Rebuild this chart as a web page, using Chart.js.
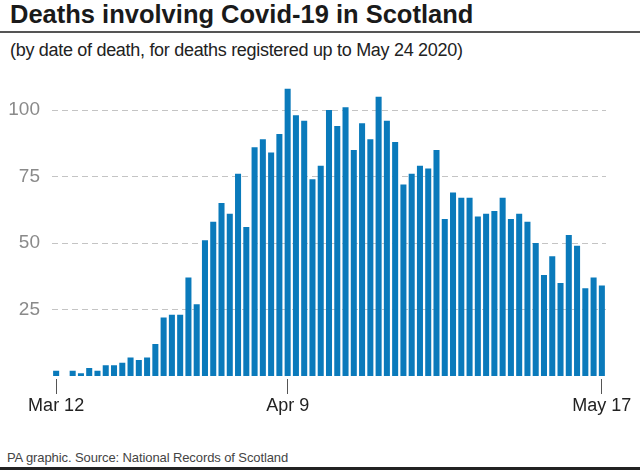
<!DOCTYPE html>
<html>
<head>
<meta charset="utf-8">
<script src="https://cdn.jsdelivr.net/npm/chart.js@4.4.1/dist/chart.umd.min.js"></script>
<style>
    body { margin: 0; background: #fff; font-family: "Liberation Sans", Arial, sans-serif; }
    #page { position: relative; width: 640px; height: 471px; overflow: hidden; }
    #title { position: absolute; left: 10px; top: 2px; font-size: 25.5px; line-height: 25px; font-weight: bold; color: #1a1a1a; white-space: nowrap; }
    #rule-top { position: absolute; left: 0; top: 31px; width: 640px; height: 2px; background: #555; }
    #subtitle { position: absolute; left: 10px; top: 40px; font-size: 18px; line-height: 20px; color: #222; letter-spacing: -0.3px; white-space: nowrap; }
    #chart-box { position: absolute; left: 0; top: 60px; width: 640px; height: 360px; }
    #footer { position: absolute; left: 7px; top: 450px; font-size: 13px; line-height: 16px; color: #444; letter-spacing: -0.1px; white-space: nowrap; }
    #rule-bottom { position: absolute; left: 0; top: 467px; width: 640px; height: 3px; background: #222; }
</style>
</head>
<body>
<div id="page">
    <div id="title">Deaths involving Covid-19 in Scotland</div>
    <div id="rule-top"></div>
    <div id="subtitle">(by date of death, for deaths registered up to May 24 2020)</div>
    <div id="chart-box"><canvas id="deathsChart" width="640" height="360"></canvas></div>
    <div id="footer">PA graphic. Source: National Records of Scotland</div>
    <div id="rule-bottom"></div>
</div>
<script>
// daily deaths, Mar 12 to May 17 2020
const deaths = [2, 0, 2, 1, 3, 2, 4, 4, 5, 7,
    6, 7, 12, 22, 23, 23, 37, 27, 51, 58,
    65, 61, 76, 56, 86, 89, 84, 91, 108, 98,
    96, 74, 79, 100, 94, 101, 85, 95, 89, 105,
    96, 88, 72, 76, 79, 78, 85, 59, 69, 67,
    67, 60, 61, 62, 67, 59, 61, 58, 50, 38,
    45, 35, 53, 49, 33, 37, 34];
const shownDates = ['Mar 12', 'Apr 9', 'May 17'];
const yTicks = [25, 50, 75, 100];

const months = ['Jan', 'Feb', 'Mar', 'Apr', 'May', 'Jun'];
const labels = [];
const firstDay = new Date(2020, 2, 12);
for (let i = 0; i < deaths.length; i++) {
    const d = new Date(firstDay);
    d.setDate(firstDay.getDate() + i);
    labels.push(months[d.getMonth()] + ' ' + d.getDate());
}

const ctx = document.getElementById('deathsChart').getContext('2d');
const deathsChart = new Chart(ctx, {
    type: 'bar',
    data: {
        labels: labels,
        datasets: [{
            label: 'Deaths',
            data: deaths,
            backgroundColor: '#0a7abb',
            borderWidth: 0,
            barPercentage: 0.73,
            categoryPercentage: 1.0
        }]
    },
    options: {
        responsive: false,
        animation: false,
        devicePixelRatio: 1,
        layout: {
            padding: { top: 23, right: 34, left: 0, bottom: 0 }
        },
        plugins: {
            legend: { display: false },
            tooltip: { enabled: false }
        },
        scales: {
            x: {
                offset: true,
                border: { display: false },
                grid: {
                    offset: false,
                    drawOnChartArea: false,
                    drawTicks: true,
                    tickLength: 18,
                    tickBorderDash: [15, 3],
                    tickBorderDashOffset: 15,
                    tickWidth: 1,
                    tickColor: function (c) {
                        return shownDates.includes(labels[c.index]) ? '#555' : 'rgba(0,0,0,0)';
                    }
                },
                ticks: {
                    autoSkip: false,
                    maxRotation: 0,
                    padding: 1,
                    color: '#222',
                    font: { family: '"Liberation Sans", Arial, sans-serif', size: 18 },
                    callback: function (value, index) {
                        return shownDates.includes(labels[index]) ? labels[index] : '';
                    }
                },
                afterFit: function (axis) { axis.height = 44; }
            },
            y: {
                min: 0,
                max: 110,
                border: { display: false, dash: [6, 4] },
                afterBuildTicks: function (axis) {
                    axis.ticks = yTicks.map(v => ({ value: v }));
                },
                grid: {
                    color: '#c4c4c4',
                    lineWidth: 1,
                    drawTicks: false
                },
                ticks: {
                    padding: 12,
                    color: '#8a8a8a',
                    font: { family: '"Liberation Sans", Arial, sans-serif', size: 19 }
                },
                afterFit: function (axis) { axis.width = 52; }
            }
        }
    }
});
</script>
</body>
</html>
